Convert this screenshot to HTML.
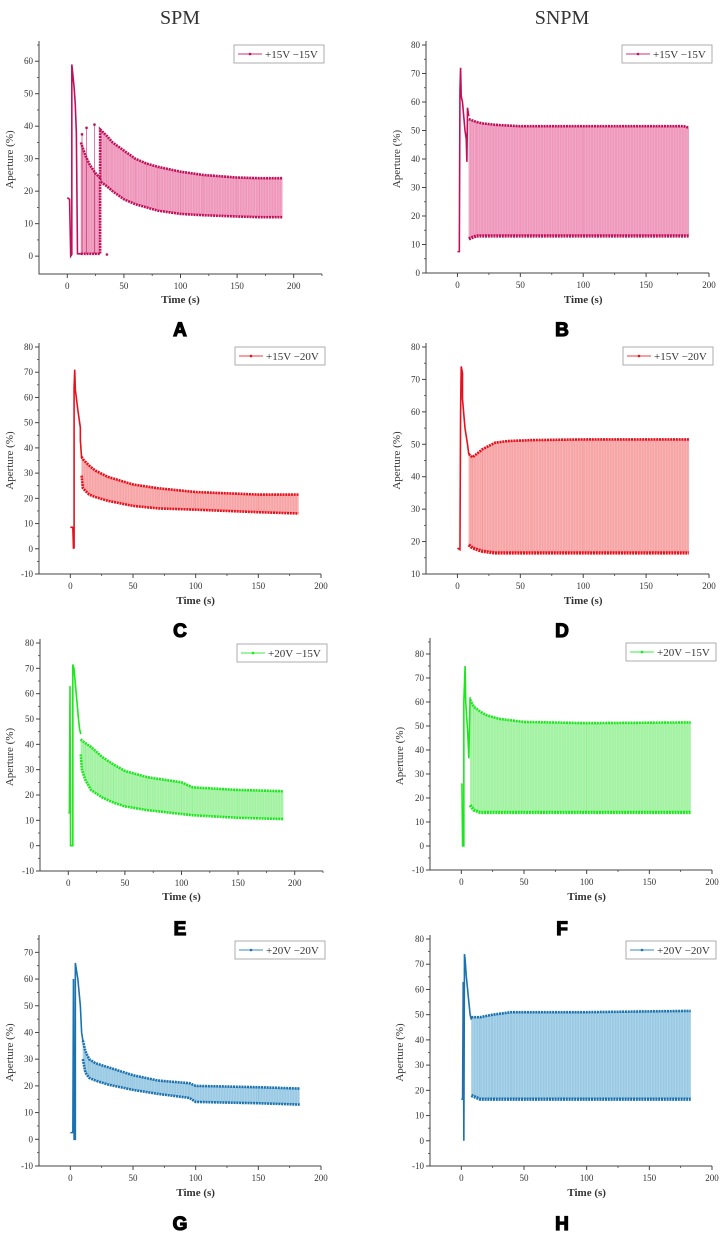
<!DOCTYPE html>
<html><head><meta charset="utf-8">
<style>
html,body{margin:0;padding:0;background:#fff;}
svg{display:block;}
text{font-family:"Liberation Serif",serif;fill:#333;}
.letter{font-family:"Liberation Sans",sans-serif;font-weight:900;fill:#000;stroke:#000;stroke-width:1.2;}
</style></head>
<body>
<svg id="fig" width="722" height="1233" viewBox="0 0 722 1233" xmlns="http://www.w3.org/2000/svg">
<text x="180" y="24" text-anchor="middle" font-size="20">SPM</text>
<text x="562" y="24" text-anchor="middle" font-size="20">SNPM</text>
</svg>
<script>
// ---- Panel A (SPM +15V -15V)
const aTransT=[0,2,3,4,4,6,7,8,9,12];
const aTransV=[18,17.5,0,0.5,59,52,47,38,0.7,0.7];
const aSpikeT=[13,17,24,35];
const aSpikeV=[37.5,39.5,40.5,0.5];
const aBandT=[12,16,20,25,29,29,35,40,50,60,70,80,100,120,150,170,190];
const aBandHi=[35,31,28,25.5,24,39,37,35,32.5,30,28.5,27.5,26,25,24.2,24,24];
const aBandLo=[0.7,0.7,0.7,0.7,0.7,23,21.5,20,17.5,16,15,14,13,12.6,12.2,12,12];
// ---- Panel B (SNPM +15V -15V)
const bTransT=[0,1.5,2,2.5,3,4,6,7,7.5,8,9];
const bTransV=[7.5,7.5,64,72,62,60,50,47,39,58,55];
const bBandT=[9,15,20,30,50,100,180,184];
const bBandHi=[54,53,52.5,52,51.5,51.5,51.5,51];
const bBandLo=[12,13,13,13,13,13,13,13];
// ---- Panel C (SPM +15V -20V)
const cTransT=[0,2,2.5,3,3,3.5,4,6,8,8,9];
const cTransV=[8.5,8.5,0,0.5,64,71,63,55,48,43,36];
const cBandT=[9,10,15,20,30,40,50,70,100,150,182];
const cBandHi=[36.5,35.5,33,31,28.5,27,25.5,24,22.5,21.5,21.5];
const cBandLo=[29,24,21.5,20.5,19,18,17,16,15.5,14.5,14];
// ---- Panel D (SNPM +15V -20V)
const dTransT=[0,2,2.5,3,4,4,6,8,9];
const dTransV=[18,17.5,60,74,72,64,55,50,47];
const dBandT=[9,12,20,30,40,60,100,184];
const dBandHi=[47,46,48.5,50.5,51,51.3,51.5,51.5];
const dBandLo=[19,18,17,16.5,16.5,16.5,16.5,16.5];
// ---- Panel E (SPM +20V -15V)
const eTransT=[0,1,1.5,2,4,4,5,7,9,10,11];
const eTransV=[13,13,63,0,0,71.5,70,60,50,46,44];
const eBandT=[11,12,15,20,30,40,50,70,100,110,150,190];
const eBandHi=[42,41.5,40.5,39,35,32,29.5,27,25,23,22,21.5];
const eBandLo=[36,30,26,22,19,17,15.5,14,12.5,12,11,10.5];
// ---- Panel F (SNPM +20V -15V)
const fTransT=[0,0.5,1,2,2,3,3.5,5,6,7];
const fTransV=[25.5,26,0,0,60,75,60,48,36.5,62];
const fBandT=[7,10,15,20,30,50,100,183];
const fBandHi=[61,58,56,54.5,53,51.7,51.2,51.5];
const fBandLo=[17,15,14,14,14,14,14,14];
// ---- Panel G (SPM +20V -20V)
const gTransT=[0,2,2.5,3,4,4,6,8,9,10];
const gTransV=[2.5,2.5,60,0,0,66,60,50,40,37];
const gBandT=[10,12,15,20,30,50,70,95,100,150,183];
const gBandHi=[37,33,30,28.5,27,24,22,21,20,19.5,19];
const gBandLo=[30,25,23,22,20.5,18.5,17,15.5,14,13.5,13];
// ---- Panel H (SNPM +20V -20V)
const hTransT=[0,1,1.5,2,2.5,3,4,6,7,8];
const hTransV=[16.5,16.5,63,0,74,72,65,55,50,48];
const hBandT=[8,15,25,40,100,183];
const hBandHi=[49,49,50,51,51,51.5];
const hBandLo=[18,16.5,16.5,16.5,16.5,16.5];

const xTicks=[0,50,100,150,200];

const panels=[
 {id:'a',L:39,R:322,T:45,B:274,x0:-25,x1:225,y0:-5.5,y1:65,yt:[0,10,20,30,40,50,60],dark:'#c0105a',fill:'#f3a9c8',leg:'+15V \u221215V',lx:234,ly:45,tl:303,letter:'A',ly2:336,yl:13,tr:aTransT,tv:aTransV,bt:aBandT,bh:aBandHi,bl:aBandLo,st:aSpikeT,sv:aSpikeV},
 {id:'b',L:426,R:709,T:45,B:273,x0:-25,x1:200,y0:0,y1:80,yt:[0,10,20,30,40,50,60,70,80],dark:'#c0105a',fill:'#f3a9c8',leg:'+15V \u221215V',lx:622,ly:45,tl:303,letter:'B',ly2:336,yl:400,tr:bTransT,tv:bTransV,bt:bBandT,bh:bBandHi,bl:bBandLo},
 {id:'c',L:39,R:321,T:347,B:574,x0:-25,x1:200,y0:-10,y1:80,yt:[-10,0,10,20,30,40,50,60,70,80],dark:'#e8101c',fill:'#f8b6b6',leg:'+15V \u221220V',lx:235,ly:347,tl:604,letter:'C',ly2:637,yl:13,tr:cTransT,tv:cTransV,bt:cBandT,bh:cBandHi,bl:cBandLo},
 {id:'d',L:426,R:709,T:347,B:574,x0:-25,x1:200,y0:10,y1:80,yt:[10,20,30,40,50,60,70,80],dark:'#e8101c',fill:'#f8b6b6',leg:'+15V \u221220V',lx:623,ly:347,tl:604,letter:'D',ly2:637,yl:400,tr:dTransT,tv:dTransV,bt:dBandT,bh:dBandHi,bl:dBandLo},
 {id:'e',L:40,R:323,T:643,B:871,x0:-25,x1:225,y0:-10,y1:80,yt:[-10,0,10,20,30,40,50,60,70,80],dark:'#1ee61e',fill:'#b2f4b2',leg:'+20V \u221215V',lx:237,ly:644,tl:900,letter:'E',ly2:935,yl:13,tr:eTransT,tv:eTransV,bt:eBandT,bh:eBandHi,bl:eBandLo},
 {id:'f',L:430,R:712,T:642,B:870,x0:-25,x1:200,y0:-10,y1:85,yt:[-10,0,10,20,30,40,50,60,70,80],dark:'#1ee61e',fill:'#b2f4b2',leg:'+20V \u221215V',lx:626,ly:643,tl:900,letter:'F',ly2:935,yl:403,tr:fTransT,tv:fTransV,bt:fBandT,bh:fBandHi,bl:fBandLo},
 {id:'g',L:39,R:321,T:939,B:1166,x0:-25,x1:200,y0:-10,y1:75,yt:[-10,0,10,20,30,40,50,60,70],dark:'#1c72ae',fill:'#abd4ea',leg:'+20V \u221220V',lx:235,ly:941,tl:1196,letter:'G',ly2:1230,yl:13,tr:gTransT,tv:gTransV,bt:gBandT,bh:gBandHi,bl:gBandLo},
 {id:'h',L:430,R:712,T:939,B:1166,x0:-25,x1:200,y0:-10,y1:80,yt:[-10,0,10,20,30,40,50,60,70,80],dark:'#1c72ae',fill:'#abd4ea',leg:'+20V \u221220V',lx:626,ly:941,tl:1196,letter:'H',ly2:1230,yl:403,tr:hTransT,tv:hTransV,bt:hBandT,bh:hBandHi,bl:hBandLo}
];
const NS='http://www.w3.org/2000/svg';
const svg=document.getElementById('fig');
function mk(tag,attrs,parent){const e=document.createElementNS(NS,tag);for(const k in attrs)e.setAttribute(k,attrs[k]);(parent||svg).appendChild(e);return e;}

panels.forEach(p=>{
  const g=mk('g',{});
  
  
  const sx=v=>p.L+(v-p.x0)/(p.x1-p.x0)*(p.R-p.L);
  const sy=v=>p.B-(v-p.y0)/(p.y1-p.y0)*(p.B-p.T);
  let pts=p.bt.map((t,i)=>sx(t)+','+sy(p.bh[i]));
  for(let i=p.bt.length-1;i>=0;i--)pts.push(sx(p.bt[i])+','+sy(p.bl[i]));
  const band=mk('polygon',{points:pts.join(' '),fill:p.fill,stroke:'none'},g);
  
  
  const vg=mk('g',{stroke:p.dark,'stroke-opacity':'0.18','stroke-width':'0.6'},g);
  for(let i=0;i<p.bt.length-1;i++){
    const xa=sx(p.bt[i]),xb=sx(p.bt[i+1]);
    for(let x=xa;x<xb;x+=1.6){
      const f=(x-xa)/(xb-xa||1);
      const hi=p.bh[i]+(p.bh[i+1]-p.bh[i])*f, lo=p.bl[i]+(p.bl[i+1]-p.bl[i])*f;
      mk('line',{x1:x,x2:x,y1:sy(hi),y2:sy(lo)},vg);
    }
  }
  const hiLine=mk('polyline',{points:p.bt.map((t,i)=>sx(t)+','+sy(p.bh[i])).join(' '),fill:'none',stroke:p.dark,'stroke-width':'2.6','stroke-dasharray':'2 0.8'},g);
  
  
  const loLine=mk('polyline',{points:p.bt.map((t,i)=>sx(t)+','+sy(p.bl[i])).join(' '),fill:'none',stroke:p.dark,'stroke-width':(p.id==='a'||p.id==='c'||p.id==='e'||p.id==='g')?'2.6':'3.4','stroke-dasharray':'2 0.8'},g);
  
  
  const tr=mk('polyline',{points:p.tr.map((t,i)=>sx(t)+','+sy(p.tv[i])).join(' '),fill:'none',stroke:p.dark,'stroke-width':'1.6'},g);
  
  
  if(p.st){p.st.forEach((t,i)=>{
    const s=mk('line',{x1:sx(t),x2:sx(t),y1:sy(0.7),y2:sy(p.sv[i]),stroke:p.dark,'stroke-width':'0.9','stroke-opacity':'0.6'},g);
    
    
    mk('circle',{cx:sx(t),cy:sy(p.sv[i]),r:1.3,fill:p.dark},g);
  });}
  const ax=mk('path',{d:`M${p.L},${p.T-4}V${p.B}H${p.R}`,fill:'none',stroke:'#444','stroke-width':'1'},g);
  
  
  p.yt.forEach(v=>{
    mk('line',{x1:p.L-4,x2:p.L,y1:sy(v),y2:sy(v),stroke:'#444','stroke-width':'1'},g);
    if(v+5<=p.y1)mk('line',{x1:p.L-2,x2:p.L,y1:sy(v+5),y2:sy(v+5),stroke:'#444','stroke-width':'0.8'},g);
    const t=mk('text',{x:p.L-6,y:sy(v)+3,'text-anchor':'end','font-size':'9'},g);
    t.textContent=v;
    
    
  });
  xTicks.forEach(v=>{
    mk('line',{x1:sx(v),x2:sx(v),y1:p.B,y2:p.B+4,stroke:'#444','stroke-width':'1'},g);
    if(sx(v-25)>p.L)mk('line',{x1:sx(v-25),x2:sx(v-25),y1:p.B,y2:p.B+2,stroke:'#444','stroke-width':'0.8'},g);
    const t=mk('text',{x:sx(v),y:p.B+15,'text-anchor':'middle','font-size':'9'},g);
    t.textContent=v;
    
    
  });
  if(p.x1>200){mk('line',{x1:sx(225),x2:sx(225),y1:p.B,y2:p.B+2,stroke:'#444','stroke-width':'0.8'},g);}
  const xt=mk('text',{x:(sx(0)+sx(200))/2,y:p.tl,'text-anchor':'middle','font-size':'11','font-weight':'bold'},g);
  xt.textContent='Time (s)';
  
  
  const ym=(p.T+p.B)/2;
  const yt=mk('text',{x:p.yl,y:ym,'text-anchor':'middle','font-size':'11',transform:`rotate(-90 ${p.yl} ${ym})`},g);
  yt.textContent='Aperture (%)';
  
  
  const lg=mk('g',{},g);
  
  
  mk('rect',{x:p.lx,y:p.ly,width:90,height:18,fill:'#fff',stroke:'#999','stroke-width':'0.8'},lg);
  mk('line',{x1:p.lx+4,x2:p.lx+28,y1:p.ly+9,y2:p.ly+9,stroke:p.fill,'stroke-width':'1.5'},lg);
  mk('line',{x1:p.lx+4,x2:p.lx+28,y1:p.ly+9,y2:p.ly+9,stroke:p.dark,'stroke-width':'0.6'},lg);
  mk('circle',{cx:p.lx+16,cy:p.ly+9,r:1.3,fill:p.dark},lg);
  const lt=mk('text',{x:p.lx+31,y:p.ly+13,'font-size':'11'},lg);
  lt.textContent=p.leg;
  
  
  const le=mk('text',{x:p.L<100?180:562,y:p.ly2,'text-anchor':'middle','font-size':'19',class:'letter'},g);
  le.textContent=p.letter;
  
  
});
</script>
</body></html>
